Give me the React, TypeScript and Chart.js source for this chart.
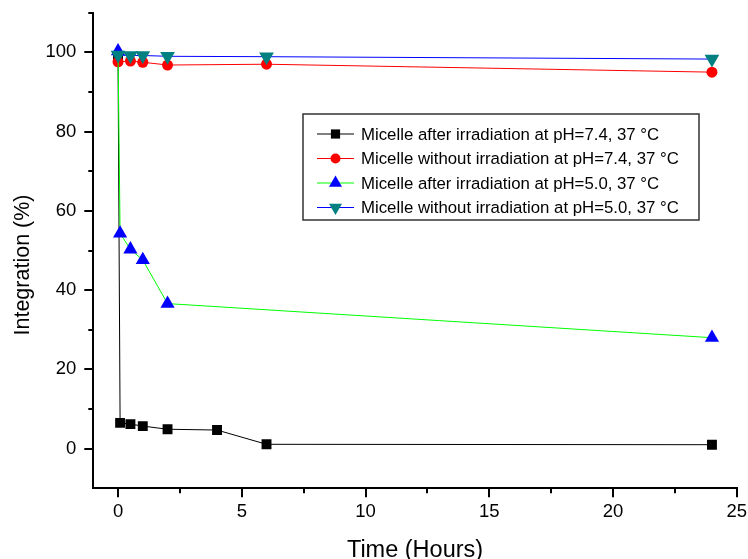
import React, { useEffect, useRef } from 'react';
import { Chart, registerables } from 'chart.js';
import { drawPoint } from 'chart.js/helpers';

Chart.register(...registerables);

// ---- data ----
const TIME_A = [0, 0.083, 0.5, 1, 2, 4, 6, 24];
const PH74_IRRADIATED = [98.5, 6.5, 6.2, 5.7, 4.9, 4.7, 1.1, 1.0];

const TIME_B = [0, 0.5, 1, 2, 6, 24];
const PH74_DARK = [97.6, 97.8, 97.5, 96.8, 97.0, 95.0];

const TIME_C = [0, 0.083, 0.5, 1, 2, 24];
const PH50_IRRADIATED = [100.3, 54.3, 50.3, 47.6, 36.6, 28.0];

const TIME_D = [0, 0.5, 1, 2, 6, 24];
const PH50_DARK = [99.3, 99.2, 99.2, 99.0, 98.9, 98.3];

const SERIES_LABELS = [
  'Micelle after irradiation at pH=7.4, 37 °C',
  'Micelle without irradiation at pH=7.4, 37 °C',
  'Micelle after irradiation at pH=5.0, 37 °C',
  'Micelle without irradiation at pH=5.0, 37 °C',
];

const X_MAJOR = [0, 5, 10, 15, 20, 25];
const X_MINOR = [2.5, 7.5, 12.5, 17.5, 22.5];
const Y_MAJOR = [0, 20, 40, 60, 80, 100];
const Y_MINOR = [10, 30, 50, 70, 90, 110];

const X_TITLE = 'Time (Hours)';
const Y_TITLE = 'Integration (%)';

const FONT = "'Liberation Sans', Arial, Helvetica, sans-serif";

const STYLES = [
  { line: '#000000', marker: '#000000', pointStyle: 'rect', radius: 7, rotation: 0, order: 4, legendRadius: 6.5 },
  { line: '#ff0000', marker: '#ff0000', pointStyle: 'circle', radius: 5.5, rotation: 0, order: 3, legendRadius: 5 },
  { line: '#00ff00', marker: '#0000ff', pointStyle: 'triangle', radius: 8.2, rotation: 0, order: 2, legendRadius: 7.5 },
  { line: '#0000ff', marker: '#008080', pointStyle: 'triangle', radius: 8.5, rotation: 180, order: 1, legendRadius: 7.5 },
];

const pairs = (xs: number[], ys: number[]) => xs.map((x, i) => ({ x, y: ys[i] }));
const SERIES_DATA = [
  pairs(TIME_A, PH74_IRRADIATED),
  pairs(TIME_B, PH74_DARK),
  pairs(TIME_C, PH50_IRRADIATED),
  pairs(TIME_D, PH50_DARK),
];

const decorPlugin = {
  id: 'decor',
  afterDraw(chart: any) {
    const { ctx, chartArea } = chart;
    const x = chart.scales.x;
    const y = chart.scales.y;
    ctx.save();
    // minor ticks
    ctx.strokeStyle = '#000';
    ctx.lineWidth = 2;
    X_MINOR.forEach((v) => {
      const px = Math.round(x.getPixelForValue(v));
      ctx.beginPath();
      ctx.moveTo(px, chartArea.bottom);
      ctx.lineTo(px, chartArea.bottom + 5);
      ctx.stroke();
    });
    Y_MINOR.forEach((v) => {
      const py = Math.round(y.getPixelForValue(v));
      ctx.beginPath();
      ctx.moveTo(chartArea.left, py);
      ctx.lineTo(chartArea.left - 5, py);
      ctx.stroke();
    });

    // axis titles
    ctx.fillStyle = '#000';
    ctx.textAlign = 'center';
    ctx.textBaseline = 'alphabetic';
    ctx.font = `23.5px ${FONT}`;
    ctx.fillText(X_TITLE, (chartArea.left + chartArea.right) / 2, 557);
    ctx.save();
    ctx.translate(28.5, 265);
    ctx.rotate(-Math.PI / 2);
    ctx.font = `21.5px ${FONT}`;
    ctx.fillText(Y_TITLE, 0, 0);
    ctx.restore();

    // legend box
    const bx = 303, by = 114, bw = 396, bh = 106;
    ctx.fillStyle = '#fff';
    ctx.fillRect(bx, by, bw, bh);
    ctx.strokeStyle = '#333';
    ctx.lineWidth = 1.5;
    ctx.strokeRect(bx, by, bw, bh);
    ctx.font = `16.8px ${FONT}`;
    ctx.textAlign = 'left';
    ctx.textBaseline = 'middle';
    SERIES_LABELS.forEach((label, i) => {
      const st = STYLES[i];
      const cy = 134 + i * 24.5;
      ctx.strokeStyle = st.line;
      ctx.lineWidth = 1;
      ctx.beginPath();
      ctx.moveTo(317, cy);
      ctx.lineTo(354, cy);
      ctx.stroke();
      ctx.fillStyle = st.marker;
      drawPoint(ctx, { pointStyle: st.pointStyle, radius: st.legendRadius, rotation: st.rotation, borderWidth: 0 } as any, 335.5, cy);
      ctx.fillStyle = '#000';
      ctx.fillText(label, 361, cy + 1);
    });
    ctx.restore();
  },
};

export default function App() {
  const ref = useRef<HTMLCanvasElement>(null);
  useEffect(() => {
    if (!ref.current) return;
    const chart = new Chart(ref.current, {
      type: 'line',
      data: {
        datasets: SERIES_DATA.map((d, i) => ({
          label: SERIES_LABELS[i],
          data: d,
          borderColor: STYLES[i].line,
          backgroundColor: STYLES[i].marker,
          borderWidth: 1,
          pointStyle: STYLES[i].pointStyle as any,
          pointRotation: STYLES[i].rotation,
          pointRadius: STYLES[i].radius,
          pointHoverRadius: STYLES[i].radius,
          pointBackgroundColor: STYLES[i].marker,
          pointBorderColor: STYLES[i].marker,
          pointBorderWidth: 0,
          tension: 0,
          fill: false,
          order: STYLES[i].order,
        })),
      },
      options: {
        animation: false,
        responsive: false,
        devicePixelRatio: 1,
        layout: { padding: { top: 12.7, right: 11.3, left: 0, bottom: 0 } },
        plugins: { legend: { display: false }, tooltip: { enabled: false } },
        scales: {
          x: {
            type: 'linear',
            min: -1,
            max: 25,
            afterBuildTicks: (s: any) => {
              s.ticks = X_MAJOR.map((v) => ({ value: v }));
            },
            afterFit: (s: any) => {
              s.height = 70.7;
              s.paddingLeft = 0;
              s.paddingRight = 0;
            },
            grid: { display: true, drawOnChartArea: false, drawTicks: true, tickLength: 9, lineWidth: 2, tickWidth: 2, tickColor: '#000', color: '#000' },
            border: { display: true, color: '#000', width: 2 },
            ticks: { color: '#000', font: { family: FONT, size: 18.5 }, padding: 4, maxRotation: 0, autoSkip: false, callback: (v: any) => String(v) },
          },
          y: {
            type: 'linear',
            min: -10,
            max: 110,
            afterBuildTicks: (s: any) => {
              s.ticks = Y_MAJOR.map((v) => ({ value: v }));
            },
            afterFit: (s: any) => {
              s.width = 93.3;
              s.paddingTop = 0;
              s.paddingBottom = 0;
            },
            grid: { display: true, drawOnChartArea: false, drawTicks: true, tickLength: 9, lineWidth: 2, tickWidth: 2, tickColor: '#000', color: '#000' },
            border: { display: true, color: '#000', width: 2 },
            ticks: { color: '#000', font: { family: FONT, size: 18.5 }, padding: 8, autoSkip: false, callback: (v: any) => String(v) },
          },
        },
      },
      plugins: [decorPlugin],
    });
    return () => chart.destroy();
  }, []);
  return (
    <div style={{ position: 'absolute', left: 0, top: 0, width: 748, height: 559, background: '#fff' }}>
      <canvas ref={ref} width={748} height={559} style={{ display: 'block' }} />
    </div>
  );
}
